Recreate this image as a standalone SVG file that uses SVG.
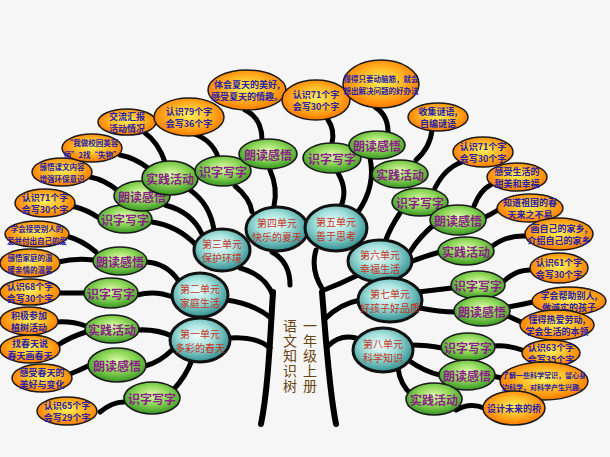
<svg xmlns="http://www.w3.org/2000/svg" width="610" height="457" viewBox="0 0 610 457">
<defs>
<radialGradient id="go" cx="50%" cy="45%" r="55%">
<stop offset="0" stop-color="#fff15a"/><stop offset="0.45" stop-color="#ffc02a"/><stop offset="1" stop-color="#ff7800"/>
</radialGradient>
<radialGradient id="gg" cx="50%" cy="40%" r="58%">
<stop offset="0" stop-color="#e2fbb0"/><stop offset="0.5" stop-color="#8fd859"/><stop offset="1" stop-color="#3c9a26"/>
</radialGradient>
<radialGradient id="gu" cx="45%" cy="40%" r="60%">
<stop offset="0" stop-color="#f2fdfc"/><stop offset="0.45" stop-color="#a6e2de"/><stop offset="1" stop-color="#2f8f8f"/>
</radialGradient>
<style>
.o ellipse{fill:url(#go);stroke:#1a1a1a;stroke-width:1.5}
.g ellipse{fill:url(#gg);stroke:#1a1a1a;stroke-width:1.6}
.u ellipse{fill:url(#gu);stroke:#111;stroke-width:3}
text{font-family:"Noto Sans CJK SC","Liberation Sans",sans-serif;text-anchor:middle;dominant-baseline:central}
.o text{fill:#2a1fa8;font-size:9px;font-weight:bold}
.o text.s{font-size:7.5px}
.o text.xs{font-size:7px}
.g text{fill:#8a1f88;font-size:12px;font-weight:bold}
.u text{fill:#c8321e;font-size:10px}
text.v{fill:#6b4512;font-size:14px;writing-mode:vertical-rl;text-anchor:start;letter-spacing:1px}
#conn path{fill:none;stroke:#000;stroke-width:5;stroke-linecap:round}
#conn path.t{stroke-width:6}
</style>
</defs>
<rect width="610" height="457" fill="#f6f6f6"/>
<g id="conn">
<path class="t" d="M273,292 C270,340 268,390 261,424"/>
<path class="t" d="M322,292 C326,340 329,390 336,424"/>
<path d="M226,300 Q252,303 271,318"/>
<path d="M230,338 Q256,336 270,348"/>
<path d="M326,318 Q340,304 360,300"/>
<path d="M328,346 Q340,334 356,338"/>
<path d="M240,268 Q266,275 273,296"/>
<path d="M272,252 Q290,262 290,285"/>
<path d="M316,250 Q310,270 323,290"/>
<path d="M324,290 Q340,284 356,276"/>
<path d="M192,360 Q186,376 174,389"/>
<path d="M172,350 Q160,362 145,366"/>
<path d="M138,330 Q156,329 172,336"/>
<path d="M137,295 Q155,290 173,297"/>
<path d="M146,262 Q166,263 178,280"/>
<path d="M152,222 Q178,226 196,245"/>
<path d="M165,205 Q192,212 202,234"/>
<path d="M190,190 Q210,204 214,230"/>
<path d="M235,186 Q250,198 252,212"/>
<path d="M270,170 Q278,188 274,206"/>
<path d="M338,173 Q348,190 341,206"/>
<path d="M370,158 Q376,186 358,212"/>
<path d="M400,213 Q390,228 385,242"/>
<path d="M437,222 Q418,238 410,252"/>
<path d="M440,252 Q425,256 410,262"/>
<path d="M452,288 Q435,290 418,292"/>
<path d="M455,312 Q440,312 420,308"/>
<path d="M442,348 Q428,345 410,345"/>
<path d="M440,375 Q425,372 408,360"/>
<path d="M412,395 Q400,385 398,368"/>
<path d="M100,412 Q112,402 124,402"/>
<path d="M88,366 Q80,370 70,374"/>
<path d="M86,332 Q70,337 58,345"/>
<path d="M86,326 Q72,321 57,322"/>
<path d="M84,293 L58,293"/>
<path d="M93,260 Q75,258 58,262"/>
<path d="M96,252 Q82,240 66,236"/>
<path d="M99,218 Q88,210 72,206"/>
<path d="M117,190 Q105,180 90,177"/>
<path d="M148,168 Q135,158 120,155"/>
<path d="M165,162 Q158,142 145,133"/>
<path d="M194,134 Q212,140 218,157"/>
<path d="M245,110 Q262,118 262,140"/>
<path d="M328,120 Q335,130 332,143"/>
<path d="M375,107 Q388,115 388,132"/>
<path d="M432,130 Q430,148 416,160"/>
<path d="M462,162 Q445,168 435,188"/>
<path d="M492,184 Q480,190 474,206"/>
<path d="M498,210 Q490,215 483,218"/>
<path d="M526,236 Q505,235 490,248"/>
<path d="M530,270 Q515,270 503,282"/>
<path d="M533,302 Q520,305 508,307"/>
<path d="M521,322 Q512,318 506,315"/>
<path d="M522,350 Q508,345 494,346"/>
<path d="M502,378 L492,376"/>
<path d="M456,410 Q470,402 484,408"/>
</g>
<g id="trunk-label">
<text class="v" x="310" y="319">一年级上册</text>
<text class="v" x="290" y="319">语文知识树</text>
</g>
<g id="u1" class="u"><ellipse cx="200" cy="340" rx="30" ry="22"/><text x="200" y="333">第一单元</text><text x="200" y="347">多彩的春天</text></g>
<g id="u2" class="u"><ellipse cx="200" cy="295" rx="28" ry="22"/><text x="200" y="288">第二单元</text><text x="200" y="302">家庭生活</text></g>
<g id="u3" class="u"><ellipse cx="222" cy="250" rx="28" ry="21"/><text x="222" y="243">第三单元</text><text x="222" y="257">保护环境</text></g>
<g id="u4" class="u"><ellipse cx="277" cy="229" rx="31" ry="22"/><text x="277" y="222">第四单元</text><text x="277" y="236">快乐的夏天</text></g>
<g id="u5" class="u"><ellipse cx="336" cy="228" rx="31" ry="23"/><text x="336" y="221">第五单元</text><text x="336" y="235">善于思考</text></g>
<g id="u6" class="u"><ellipse cx="380" cy="261" rx="32" ry="21"/><text x="380" y="254">第六单元</text><text x="380" y="268">幸福生活</text></g>
<g id="u7" class="u"><ellipse cx="390" cy="300" rx="32" ry="22"/><text x="390" y="293">第七单元</text><text x="390" y="307">好孩子好品质</text></g>
<g id="u8" class="u"><ellipse cx="383" cy="350" rx="30" ry="22"/><text x="383" y="343">第八单元</text><text x="383" y="357">科学知识</text></g>
<g id="g1a" class="g"><ellipse cx="152" cy="398" rx="28" ry="16"/><text x="152" y="398">识字写字</text></g>
<g id="g1b" class="g"><ellipse cx="117" cy="365" rx="29" ry="17"/><text x="117" y="365">朗读感悟</text></g>
<g id="g1c" class="g"><ellipse cx="112" cy="329" rx="27" ry="14"/><text x="112" y="329">实践活动</text></g>
<g id="g2a" class="g"><ellipse cx="111" cy="293" rx="27" ry="15"/><text x="111" y="293">识字写字</text></g>
<g id="g2b" class="g"><ellipse cx="120" cy="261" rx="27" ry="14"/><text x="120" y="261">朗读感悟</text></g>
<g id="g3a" class="g"><ellipse cx="125" cy="219" rx="27" ry="14"/><text x="125" y="219">识字写字</text></g>
<g id="g3b" class="g"><ellipse cx="142" cy="196" rx="28" ry="15"/><text x="142" y="196">朗读感悟</text></g>
<g id="g3c" class="g"><ellipse cx="170" cy="178" rx="28" ry="17"/><text x="170" y="178">实践活动</text></g>
<g id="g4a" class="g"><ellipse cx="223" cy="171" rx="28" ry="15"/><text x="223" y="171">识字写字</text></g>
<g id="g4b" class="g"><ellipse cx="268" cy="154" rx="29" ry="15"/><text x="268" y="154">朗读感悟</text></g>
<g id="g5a" class="g"><ellipse cx="332" cy="158" rx="29" ry="15"/><text x="332" y="158">识字写字</text></g>
<g id="g5b" class="g"><ellipse cx="377" cy="145" rx="28" ry="14"/><text x="377" y="145">朗读感悟</text></g>
<g id="g5c" class="g"><ellipse cx="400" cy="174" rx="28" ry="14"/><text x="400" y="174">实践活动</text></g>
<g id="g6a" class="g"><ellipse cx="420" cy="202" rx="28" ry="14"/><text x="420" y="202">识字写字</text></g>
<g id="g6b" class="g"><ellipse cx="458" cy="220" rx="28" ry="15"/><text x="458" y="220">朗读感悟</text></g>
<g id="g6c" class="g"><ellipse cx="466" cy="251" rx="28" ry="14"/><text x="466" y="251">实践活动</text></g>
<g id="g7a" class="g"><ellipse cx="478" cy="285" rx="27" ry="14"/><text x="478" y="285">识字写字</text></g>
<g id="g7b" class="g"><ellipse cx="482" cy="311" rx="28" ry="15"/><text x="482" y="311">朗读感悟</text></g>
<g id="g8a" class="g"><ellipse cx="468" cy="347" rx="27" ry="14"/><text x="468" y="347">识字写字</text></g>
<g id="g8b" class="g"><ellipse cx="467" cy="375" rx="28" ry="15"/><text x="467" y="375">朗读感悟</text></g>
<g id="g8c" class="g"><ellipse cx="434" cy="399" rx="28" ry="16"/><text x="434" y="399">实践活动</text></g>
<g id="o1" class="o"><ellipse cx="67" cy="411" rx="30" ry="14"/><text x="67" y="405">认识65个字</text><text x="67" y="417">会写29个字</text></g>
<g id="o2" class="o"><ellipse cx="42" cy="378" rx="30" ry="14"/><text x="42" y="372">感受春天的</text><text x="42" y="384">美好与变化</text></g>
<g id="o3" class="o"><ellipse cx="30" cy="349" rx="30" ry="14"/><text x="30" y="343">找春天说</text><text x="30" y="355">春天画春天</text></g>
<g id="o4" class="o"><ellipse cx="29" cy="321" rx="29" ry="14"/><text x="29" y="315">积极参加</text><text x="29" y="327">植树活动</text></g>
<g id="o5" class="o"><ellipse cx="30" cy="292" rx="30" ry="13"/><text x="30" y="286">认识68个字</text><text x="30" y="298">会写30个字</text></g>
<g id="o6" class="o"><ellipse cx="30" cy="263" rx="30" ry="14"/><text class="s" x="30" y="257">感悟家庭的温</text><text class="s" x="30" y="269">暖亲情的温馨</text></g>
<g id="o7" class="o"><ellipse cx="37" cy="234" rx="32" ry="13"/><text class="s" x="37" y="228">学会接受别人的</text><text class="s" x="37" y="240">爱并付出自己的爱</text></g>
<g id="o8" class="o"><ellipse cx="45" cy="203" rx="30" ry="14"/><text x="45" y="197">认识71个字</text><text x="45" y="209">会写30个字</text></g>
<g id="o9" class="o"><ellipse cx="62" cy="172" rx="30" ry="14"/><text class="s" x="62" y="166">感悟课文内容</text><text class="s" x="62" y="178">增强环保意识</text></g>
<g id="o10" class="o"><ellipse cx="92" cy="148" rx="30" ry="14"/><text class="s" x="92" y="142">“我做校园美容</text><text class="s" x="92" y="154">师”2找“失物”</text></g>
<g id="o11" class="o"><ellipse cx="127" cy="122" rx="29" ry="13"/><text x="127" y="116">交流汇报</text><text x="127" y="128">活动情况</text></g>
<g id="o12" class="o"><ellipse cx="189" cy="117" rx="35" ry="19"/><text x="189" y="111">认识79个字</text><text x="189" y="123">会写36个字</text></g>
<g id="o13" class="o"><ellipse cx="247" cy="90" rx="39" ry="20"/><text x="247" y="84">体会夏天的美好,</text><text x="247" y="96">感受夏天的情趣。</text></g>
<g id="o14" class="o"><ellipse cx="316" cy="100" rx="34" ry="20"/><text x="316" y="94">认识71个字</text><text x="316" y="106">会写30个字</text></g>
<g id="o15" class="o"><ellipse cx="381" cy="84" rx="38" ry="24"/><text class="s" x="381" y="78">懂得只要动脑筋，就会</text><text class="s" x="381" y="90">想出解决问题的好办法</text></g>
<g id="o16" class="o"><ellipse cx="438" cy="117" rx="30" ry="14"/><text x="438" y="111">收集谜语,</text><text x="438" y="123">自编谜语</text></g>
<g id="o17" class="o"><ellipse cx="483" cy="152" rx="30" ry="15"/><text x="483" y="146">认识71个字</text><text x="483" y="158">会写30个字</text></g>
<g id="o18" class="o"><ellipse cx="517" cy="177" rx="30" ry="14"/><text x="517" y="171">感受生活的</text><text x="517" y="183">甜美和幸福</text></g>
<g id="o19" class="o"><ellipse cx="530" cy="208" rx="33" ry="14"/><text x="530" y="202">知道祖国的春</text><text x="530" y="214">天来之不易</text></g>
<g id="o20" class="o"><ellipse cx="559" cy="234" rx="34" ry="16"/><text x="559" y="228">画自己的家乡,</text><text x="559" y="240">介绍自己的家乡</text></g>
<g id="o21" class="o"><ellipse cx="559" cy="268" rx="29" ry="15"/><text x="559" y="262">认识61个字</text><text x="559" y="274">会写30个字</text></g>
<g id="o22" class="o"><ellipse cx="569" cy="301" rx="37" ry="14"/><text x="569" y="295">学会帮助别人,</text><text x="569" y="307">做诚实的孩子</text></g>
<g id="o23" class="o"><ellipse cx="557" cy="325" rx="37" ry="15"/><text x="557" y="319">懂得热爱劳动,</text><text x="557" y="331">学会生活的本领</text></g>
<g id="o24" class="o"><ellipse cx="551" cy="353" rx="29" ry="13"/><text x="551" y="347">认识63个字</text><text x="551" y="359">会写35个字</text></g>
<g id="o25" class="o"><ellipse cx="544" cy="381" rx="44" ry="19"/><text class="xs" x="544" y="375">了解一些科学常识，留心身</text><text class="xs" x="544" y="387">边科学，对科学产生兴趣。</text></g>
<g id="o26" class="o"><ellipse cx="514" cy="408" rx="31" ry="17"/><text x="514" y="408">设计未来的桥</text></g>
</svg>
